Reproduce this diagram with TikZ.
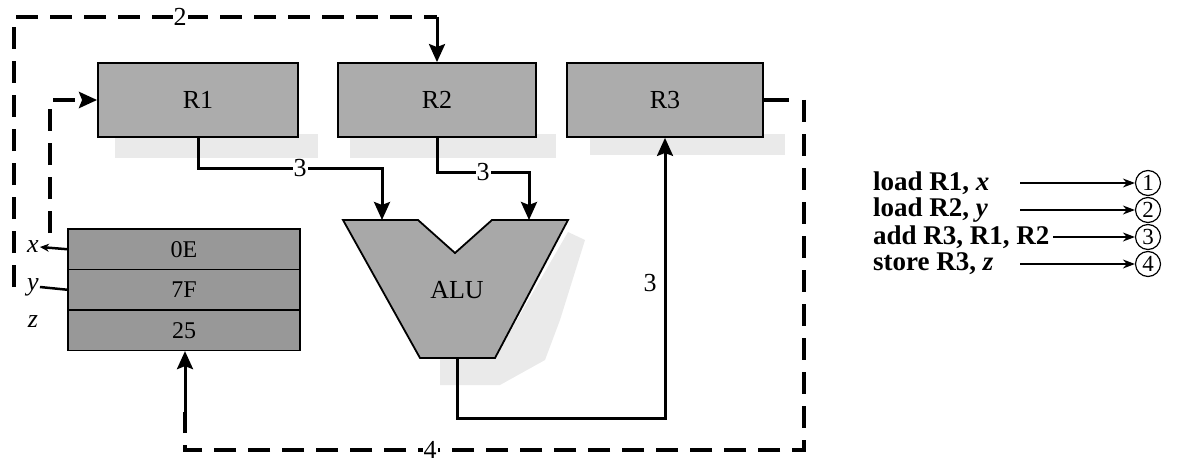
\documentclass[tikz,border=0pt]{standalone}
\usepackage{fontspec}
\setmainfont{Liberation Serif}
\usetikzlibrary{arrows.meta}
\definecolor{regfill}{RGB}{172,172,172}
\definecolor{memfill}{RGB}{152,152,152}
\definecolor{alufill}{RGB}{168,168,168}
\definecolor{shadefill}{RGB}{234,234,234}
\begin{document}
\begin{tikzpicture}[x=1pt,y=-1pt,
  lbl/.style={font=\fontsize{26}{28}\selectfont, inner sep=1pt},
  reg/.style={draw, line width=1.8pt, fill=regfill, minimum width=200pt, minimum height=74pt, inner sep=0pt, font=\fontsize{26}{28}\selectfont},
  memcell/.style={draw, line width=1.2pt, fill=memfill, minimum width=232pt, minimum height=40.5pt, inner sep=0pt, font=\fontsize{24}{26}\selectfont},
  conn/.style={line width=3pt},
  arr/.style={-{Stealth[length=18pt,width=16pt,inset=3pt]}},
  dashconn/.style={line width=4.5pt, dash pattern=on 22pt off 12pt},
  shade/.style={fill=shadefill, draw=none},
  listtext/.style={anchor=west, font=\fontsize{27}{28}\selectfont\bfseries, inner sep=0pt},
  listarrow/.style={line width=1.4pt, -{Stealth[length=12pt,width=9pt]}},
  num/.style={draw, circle, line width=1.2pt, minimum size=25pt, inner sep=0pt, font=\fontsize{23}{24}\selectfont}
]
\useasboundingbox (0,0) rectangle (1185,468);

% faint speckle shadows
\path[shade] (115,134) rectangle (318,158);
\path[shade] (350,134) rectangle (556,158);
\path[shade] (590,134) rectangle (785,155);
\path[shade] (568,232) -- (585,240) -- (560,320) -- (545,360) -- (500,385) -- (440,385) -- (440,358) -- (495,358) -- cycle;

% registers
\node[reg] (R1) at (198,100) {R1};
\node[reg, minimum width=198pt] (R2) at (437,100) {R2};
\node[reg, minimum width=196pt] (R3) at (665,100) {R3};

% memory
\node[memcell] (m1) at (184,249.25) {0E};
\node[memcell] (m2) at (184,289.75) {7F};
\node[memcell] (m3) at (184,330.25) {25};

% ALU
\draw[line width=1.8pt, fill=alufill] (343,220) -- (418,220) -- (455,253) -- (492,220) -- (568,220) -- (495,358) -- (420,358) -- cycle;
\node[lbl] (ALU) at (457,290) {ALU};
\coordinate (aluL) at (382,220);
\coordinate (aluR) at (529,220);
\coordinate (aluO) at (457,358);

% solid data paths
\draw[conn, arr] (R1.south) -- (198,168) -| (aluL);
\node[lbl, fill=white] (t3a) at (300,168) {3};
\draw[conn, arr] (R2.south) -- (437,172) -| (aluR);
\node[lbl, fill=white] (t3b) at (483,172) {3};
\draw[conn, arr] (aluO) -- (457,418) -| (R3.south);
\node[lbl] (t3c) at (650,283) {3};

% dashed path 1 (load R1, x)
\coordinate (d1s) at (50,233);
\draw[dashconn, -{Stealth[length=18pt,width=16pt,inset=3pt]}] (d1s) |- (R1.west);

% dashed path 2 (load R2, y)
\coordinate (d2s) at (14,287);
\coordinate (d2a) at (14,17);
\coordinate (d2b) at (427,17);
\coordinate (d2c) at (437,17);
\draw[dashconn] (d2s) -- (d2a) -- (d2b);
\draw[line width=4.5pt] (d2b) -- (d2c);
\draw[conn, arr] (d2c) -- (R2.north);
\node[lbl, fill=white] (t2) at (180,17) {2};

% dashed path 4 (store R3, z)
\coordinate (d4a) at (789,100);
\coordinate (d4b) at (804,100);
\coordinate (d4c) at (804,450);
\coordinate (d4d) at (185,450);
\coordinate (d4e) at (185,412);
\draw[line width=4.5pt] (R3.east) -- (d4a);
\draw[dashconn] (d4b) -- (d4c) -- (d4d) -- (d4e);
\draw[conn, arr] (d4e) -- (m3.south -| d4d);
\node[lbl, fill=white] (t4) at (430,450) {4};

% memory address labels
\node[lbl, font=\fontsize{26}{28}\selectfont\itshape] (lx) at (33,247) {x};
\node[lbl, font=\fontsize{26}{28}\selectfont\itshape] (ly) at (33,287) {y};
\node[lbl, font=\fontsize{26}{28}\selectfont\itshape] (lz) at (33,322) {z};
\draw[line width=2.5pt, -{Stealth[length=9pt,width=8pt]}] (m1.west) -- (lx.east);
\draw[line width=2.5pt] (m2.west) -- (ly.east);

% instruction list
\node[listtext] (i1) at (873,183) {load R1, \textit{x}};
\node[listtext] (i2) at (873,210) {load R2, \textit{y}};
\node[listtext] (i3) at (873,237) {add R3, R1, R2};
\node[listtext] (i4) at (873,264) {store R3, \textit{z}};
\node[num] (n1) at (1148,183) {1};
\node[num] (n2) at (1148,210) {2};
\node[num] (n3) at (1148,237) {3};
\node[num] (n4) at (1148,264) {4};
\coordinate (a1) at (1020,183);
\coordinate (a2) at (1020,210);
\coordinate (a3) at (1053,237);
\coordinate (a4) at (1020,264);
\draw[listarrow] (a1) -- (n1.west);
\draw[listarrow] (a2) -- (n2.west);
\draw[listarrow] (a3) -- (n3.west);
\draw[listarrow] (a4) -- (n4.west);
\end{tikzpicture}
\end{document}
